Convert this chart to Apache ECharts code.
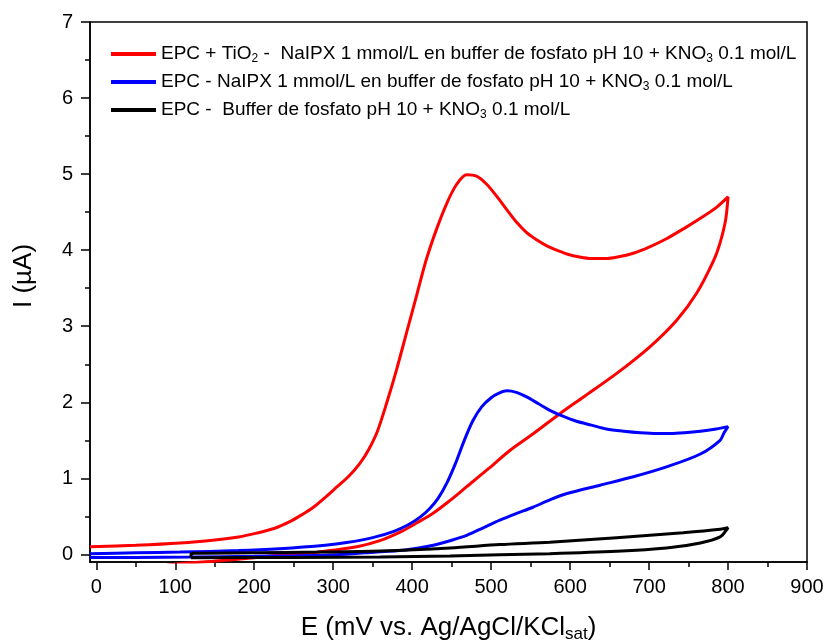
<!DOCTYPE html>
<html>
<head>
<meta charset="utf-8">
<script src="https://cdn.jsdelivr.net/npm/echarts@6/dist/echarts.min.js"></script>
<style>html,body{margin:0;padding:0;background:#fff}#c{width:827px;height:641px}</style>
</head>
<body>
<div id="c"></div>
<script>
// ---- data ----
const seriesNames = [
  'EPC + TiO2 -  NaIPX 1 mmol/L en buffer de fosfato pH 10 + KNO3 0.1 mol/L',
  'EPC - NaIPX 1 mmol/L en buffer de fosfato pH 10 + KNO3 0.1 mol/L',
  'EPC -  Buffer de fosfato pH 10 + KNO3 0.1 mol/L'
];
const legendLabels = [
  'EPC + TiO{sub|2} -  NaIPX 1 mmol/L en buffer de fosfato pH 10 + KNO{sub|3} 0.1 mol/L',
  'EPC - NaIPX 1 mmol/L en buffer de fosfato pH 10 + KNO{sub|3} 0.1 mol/L',
  'EPC -  Buffer de fosfato pH 10 + KNO{sub|3} 0.1 mol/L'
];
const seriesColors = ['#ff0000', '#0000ff', '#000000'];

// E (mV), I (uA) pairs, forward scan then reverse scan
const redTiO2 = [
  [-8,0.10],[50,0.12],[106,0.15],[150,0.19],[180,0.23],[203,0.28],[225,0.34],[245,0.43],
  [260,0.52],[275,0.62],[290,0.75],[305,0.89],[320,1.03],[334,1.20],[345,1.38],[356,1.62],
  [368,2.00],[380,2.42],[393,2.92],[406,3.42],[418,3.88],[431,4.28],[444,4.62],[456,4.86],
  [469,4.99],[482,4.97],[494,4.87],[507,4.71],[520,4.53],[532,4.37],[545,4.23],[557,4.14],
  [570,4.06],[583,4.00],[596,3.95],[612,3.91],[627,3.89],[645,3.89],[660,3.91],[680,3.96],
  [700,4.04],[722,4.15],[745,4.29],[765,4.42],[785,4.56],[800,4.70],
  [797,4.40],[790,4.10],[782,3.87],[760,3.43],[735,3.08],[701,2.73],[659,2.38],[617,2.07],
  [587,1.85],[555,1.60],[524,1.37],[497,1.13],[469,0.89],[448,0.71],[425,0.53],[405,0.41],
  [388,0.31],[359,0.18],[330,0.10],[296,0.05],[266,0.01],[232,-0.01],[203,-0.04],[148,-0.09],
  [120,-0.11],[90,-0.14]
];
const blueNaIPX = [
  [-8,0.01],[50,0.02],[106,0.03],[180,0.05],[232,0.075],[290,0.12],[317,0.155],[350,0.22],
  [376,0.30],[395,0.39],[410,0.49],[422,0.60],[433,0.74],[444,0.94],[455,1.20],[466,1.50],
  [477,1.76],[488,1.94],[500,2.06],[510,2.12],[520,2.15],[532,2.13],[545,2.07],[560,1.98],
  [575,1.89],[590,1.82],[608,1.75],[627,1.70],[646,1.65],[668,1.62],[689,1.60],[710,1.59],
  [727,1.59],[745,1.60],[765,1.62],[785,1.65],[800,1.68],
  [795,1.60],[790,1.50],[765,1.32],[722,1.15],[680,1.02],[638,0.91],[596,0.80],[575,0.72],
  [553,0.62],[530,0.53],[511,0.45],[490,0.35],[469,0.25],[448,0.18],[427,0.12],[405,0.08],
  [384,0.05],[340,0.02],[287,-0.01],[200,-0.025],[118,-0.035],[50,-0.04],[-8,-0.04]
];
const blackBuffer = [
  [120,-0.045],[120,0.01],[200,0.02],[280,0.03],[360,0.045],[448,0.085],[511,0.13],[574,0.16],
  [659,0.22],[743,0.285],[790,0.33],[800,0.35],
  [798,0.32],[790,0.23],[765,0.15],[722,0.083],[659,0.04],[574,0.01],[448,-0.02],[360,-0.035],
  [250,-0.04],[120,-0.045]
];

const xMajorTicks = [0,100,200,300,400,500,600,700,800,900];
const xMinorTicks = [50,150,250,350,450,550,650,750,850];
const yMajorTicks = [0,1,2,3,4,5,6,7];
const yMinorTicks = [0.5,1.5,2.5,3.5,4.5,5.5,6.5];

const xName = 'E (mV vs. Ag/AgCl/KCl{sub|sat})';
const yName = 'I (\u00b5A)';

// ---- chart ----
const FONT = 'Liberation Sans, Arial, sans-serif';
const chart = echarts.init(document.getElementById('c'), null, {renderer: 'canvas'});
const xRange = {min: -8, max: 900};
const yRange = {min: -0.1, max: 7};
const lineAxis = {show: true, onZero: false, lineStyle: {color: '#000', width: 1.5}};
const noLine = {show: false, onZero: false};

const option = {
  backgroundColor: '#fff',
  animation: false,
  grid: {left: 90, right: 20, top: 22, bottom: 79, show: true, borderColor: '#000', borderWidth: 1.5,
         backgroundColor: 'transparent', outerBoundsMode: 'none', containLabel: false},
  legend: {
    orient: 'vertical', left: 111, top: 43, padding: 0, itemWidth: 45, itemHeight: 4, itemGap: 6,
    icon: 'rect',
    data: seriesNames,
    formatter: function (name) { return legendLabels[seriesNames.indexOf(name)]; },
    textStyle: {fontFamily: FONT, fontSize: 19, color: '#000', lineHeight: 22,
      rich: {sub: {fontFamily: FONT, fontSize: 12, color: '#000', lineHeight: 10, verticalAlign: 'bottom'}}}
  },
  xAxis: [
    {type: 'value', position: 'bottom', min: xRange.min, max: xRange.max,
     axisLine: lineAxis,
     axisTick: {show: true, inside: false, length: 8, customValues: xMajorTicks, lineStyle: {color: '#000', width: 1.5}},
     axisLabel: {inside: false, customValues: xMajorTicks, margin: 15, fontFamily: FONT, fontSize: 20, color: '#000'},
     splitLine: {show: false},
     name: xName, nameLocation: 'middle', nameGap: 51,
     nameTextStyle: {fontFamily: FONT, fontSize: 26, color: '#000', lineHeight: 30,
       rich: {sub: {fontFamily: FONT, fontSize: 17, color: '#000', lineHeight: 12, verticalAlign: 'bottom'}}}},
    {type: 'value', position: 'bottom', min: xRange.min, max: xRange.max,
     axisLine: noLine,
     axisTick: {show: true, inside: false, length: 5, customValues: xMinorTicks, lineStyle: {color: '#000', width: 1.5}},
     axisLabel: {show: false}, splitLine: {show: false}}
  ],
  yAxis: [
    {type: 'value', position: 'left', min: yRange.min, max: yRange.max,
     axisLine: lineAxis,
     axisTick: {show: true, inside: false, length: 9, customValues: yMajorTicks, lineStyle: {color: '#000', width: 1.5}},
     axisLabel: {inside: false, customValues: yMajorTicks, margin: 17, fontFamily: FONT, fontSize: 20, color: '#000'},
     splitLine: {show: false},
     name: yName, nameLocation: 'middle', nameGap: 53,
     nameTextStyle: {fontFamily: FONT, fontSize: 26, color: '#000', padding: [0, 0, 0, 32]}},
    {type: 'value', position: 'left', min: yRange.min, max: yRange.max,
     axisLine: noLine,
     axisTick: {show: true, inside: false, length: 5, customValues: yMinorTicks, lineStyle: {color: '#000', width: 1.5}},
     axisLabel: {show: false}, splitLine: {show: false}}
  ],
  series: [redTiO2, blueNaIPX, blackBuffer].map(function (d, i) {
    return {
      name: seriesNames[i], type: 'line', data: d, xAxisIndex: 0, yAxisIndex: 0,
      showSymbol: false, symbol: 'none', smooth: 0.3, clip: true,
      color: seriesColors[i],
      lineStyle: {color: seriesColors[i], width: 3}
    };
  })
};
chart.setOption(option);
</script>
</body>
</html>
